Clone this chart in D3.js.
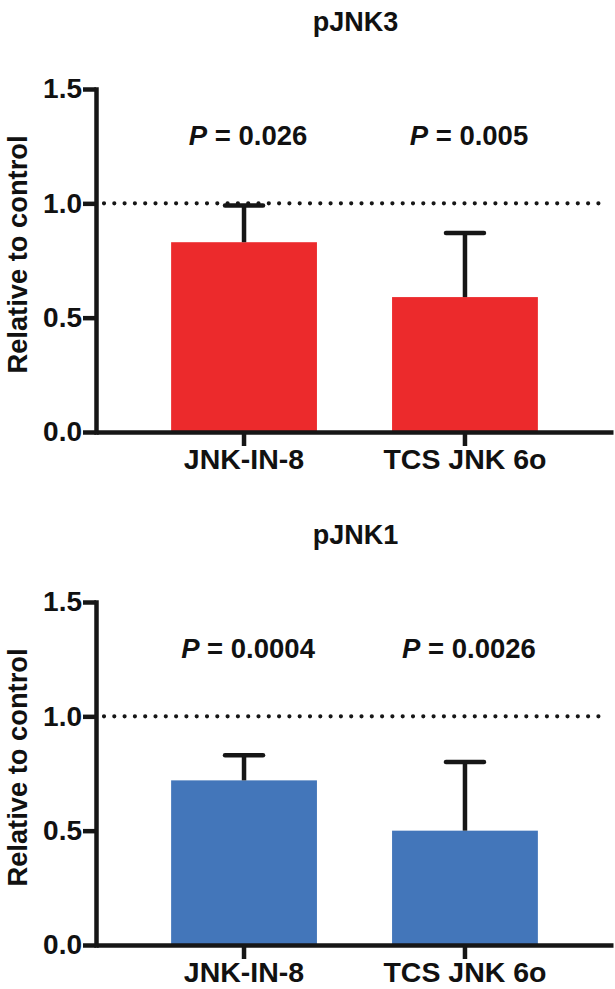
<!DOCTYPE html>
<html>
<head>
<meta charset="utf-8">
<script src="https://cdn.jsdelivr.net/npm/d3@7/dist/d3.min.js"></script>
<style>
  html, body { margin: 0; padding: 0; background: #fff; }
  svg { display: block; }
  text { font-family: "Liberation Sans", Arial, Helvetica, sans-serif; font-weight: bold; fill: #111; }
</style>
</head>
<body>
<svg id="chart" width="615" height="989"></svg>
<script>
// ---- Data ----
const categories = ["JNK-IN-8", "TCS JNK 6o"];
const yTicks = [0, 0.5, 1.0, 1.5];
const referenceLevel = 1.0;

const pJNK3Means = [0.83, 0.59];
const pJNK3Errors = [0.16, 0.28];
const pJNK3PValues = ["0.026", "0.005"];

const pJNK1Means = [0.72, 0.50];
const pJNK1Errors = [0.11, 0.30];
const pJNK1PValues = ["0.0004", "0.0026"];

const panels = [
  { title: "pJNK3", means: pJNK3Means, errors: pJNK3Errors, pvals: pJNK3PValues, color: "#EC2A2C", top: 0 },
  { title: "pJNK1", means: pJNK1Means, errors: pJNK1Errors, pvals: pJNK1PValues, color: "#4376BA", top: 513 }
];

// ---- Layout ----
const svg = d3.select("#chart");
const left = 96, right = 613;
const plotTop = 89, plotBottom = 432;
const lw = 4.5;
const ink = "#161616";

panels.forEach(p => {
  const g = svg.append("g").attr("transform", `translate(0,${p.top})`);

  const x = d3.scaleBand().domain(categories).range([left, right]).padding(0.34);
  const y = d3.scaleLinear().domain([0, 1.5]).range([plotBottom, plotTop]);

  // title
  g.append("text")
    .attr("x", (left + right) / 2 + 1)
    .attr("y", 31)
    .attr("text-anchor", "middle")
    .attr("font-size", 27)
    .text(p.title);

  // bars
  g.selectAll("rect.bar")
    .data(categories)
    .join("rect")
    .attr("class", "bar")
    .attr("x", d => x(d))
    .attr("width", x.bandwidth())
    .attr("y", (d, i) => y(p.means[i]))
    .attr("height", (d, i) => y(0) - y(p.means[i]))
    .attr("fill", p.color);

  // error bars (upper)
  const eb = g.selectAll("g.err").data(categories).join("g").attr("class", "err");
  eb.append("line")
    .attr("x1", d => x(d) + x.bandwidth() / 2)
    .attr("x2", d => x(d) + x.bandwidth() / 2)
    .attr("y1", (d, i) => y(p.means[i]))
    .attr("y2", (d, i) => y(p.means[i] + p.errors[i]))
    .attr("stroke", ink).attr("stroke-width", lw);
  eb.append("line")
    .attr("x1", d => x(d) + x.bandwidth() / 2 - 19)
    .attr("x2", d => x(d) + x.bandwidth() / 2 + 19)
    .attr("y1", (d, i) => y(p.means[i] + p.errors[i]))
    .attr("y2", (d, i) => y(p.means[i] + p.errors[i]))
    .attr("stroke", ink).attr("stroke-width", lw).attr("stroke-linecap", "round");

  // dotted reference line
  g.append("line")
    .attr("x1", left + 8).attr("x2", 606)
    .attr("y1", y(referenceLevel)).attr("y2", y(referenceLevel))
    .attr("stroke", ink)
    .attr("stroke-width", 4.2)
    .attr("stroke-linecap", "round")
    .attr("stroke-dasharray", "0 10.3");

  // p-values
  g.selectAll("text.pval")
    .data(categories)
    .join("text")
    .attr("class", "pval")
    .attr("x", d => x(d) + x.bandwidth() / 2 + 4)
    .attr("y", 145)
    .attr("text-anchor", "middle")
    .attr("font-size", 27.5)
    .each(function(d, i) {
      const t = d3.select(this);
      t.append("tspan").attr("font-style", "italic").text("P");
      t.append("tspan").text(" = " + p.pvals[i]);
    });

  // y axis
  const yAxis = g.append("g")
    .attr("transform", `translate(${left},0)`)
    .call(d3.axisLeft(y).tickValues(yTicks).tickFormat(d3.format(".1f")).tickSize(13).tickSizeOuter(0).tickPadding(1));
  yAxis.select(".domain").attr("stroke", ink).attr("stroke-width", lw).attr("stroke-linecap", "square");
  yAxis.selectAll(".tick line").attr("stroke", ink).attr("stroke-width", lw);
  yAxis.selectAll(".tick text").attr("font-size", 28).attr("font-family", null).attr("fill", "#111");

  // x axis
  const xAxis = g.append("g")
    .attr("transform", `translate(0,${plotBottom})`)
    .call(d3.axisBottom(x).tickSize(14).tickSizeOuter(0).tickPadding(2.5));
  xAxis.select(".domain").attr("stroke", ink).attr("stroke-width", lw);
  xAxis.selectAll(".tick line").attr("stroke", ink).attr("stroke-width", lw);
  xAxis.selectAll(".tick text").attr("font-size", 28.5).attr("font-family", null).attr("fill", "#111");

  // y label
  g.append("text")
    .attr("transform", `translate(27,${(plotTop + plotBottom) / 2 - 6}) rotate(-90)`)
    .attr("text-anchor", "middle")
    .attr("font-size", 27.3)
    .text("Relative to control");
});
</script>
</body>
</html>
